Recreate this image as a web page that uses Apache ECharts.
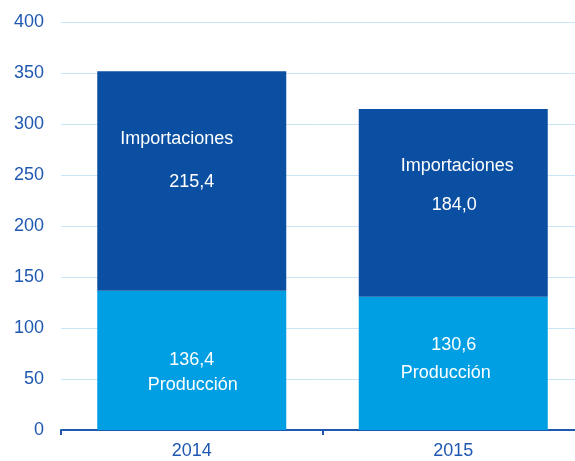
<!DOCTYPE html>
<html>
<head>
<meta charset="utf-8">
<script src="https://cdn.jsdelivr.net/npm/echarts@6/dist/echarts.min.js"></script>
<style>
html,body{margin:0;padding:0;background:#fff;}
#c{width:575px;height:461px;}
</style>
</head>
<body>
<div id="c"></div>
<script>
var categories = ['2014', '2015'];
var produccion = [136.4, 130.6];
var importaciones = [215.4, 184.0];
var yTicks = [0, 50, 100, 150, 200, 250, 300, 350, 400];

var fmt = function (v) { return v.toFixed(1).replace('.', ','); };

// label layout tweaks (style only)
var impLayout = [
  { lh: 43, off: -20, padName: [0, 30, 0, 0], padVal: [0, 0, 0, 0] },
  { lh: 39, off: -17, padName: [0, 0, 0, 8], padVal: [0, 0, 0, 2] }
];
var prodLayout = [
  { lh: 25, off: 12, padName: [0, 0, 0, 2], padVal: [0, 0, 0, 0] },
  { lh: 28, off: -4, padName: [0, 15, 0, 0], padVal: [0, 0, 0, 1] }
];

function makeData(values, name, layout, nameFirst) {
  return values.map(function (v, i) {
    var L = layout[i];
    return {
      value: v,
      label: {
        show: true,
        position: 'inside',
        offset: [0, L.off],
        formatter: nameFirst ? ('{n|' + name + '}\n{v|' + fmt(v) + '}') : ('{v|' + fmt(v) + '}\n{n|' + name + '}'),
        rich: {
          n: { color: '#fff', fontSize: 18, fontFamily: 'Liberation Sans, Arial, sans-serif', lineHeight: L.lh, padding: L.padName, align: 'center' },
          v: { color: '#fff', fontSize: 18, fontFamily: 'Liberation Sans, Arial, sans-serif', lineHeight: L.lh, padding: L.padVal, align: 'center' }
        }
      }
    };
  });
}

var chart = echarts.init(document.getElementById('c'), null, { renderer: 'canvas' });
chart.setOption({
  animation: false,
  backgroundColor: '#ffffff',
  grid: { left: 61, width: 523, top: 22, height: 408, containLabel: false, outerBoundsMode: 'none' },
  xAxis: {
    type: 'category',
    data: categories,
    axisLine: { show: true, lineStyle: { color: '#1f58b0', width: 2 } },
    axisTick: { show: true, length: 5, lineStyle: { color: '#1f58b0', width: 2 } },
    axisLabel: { color: '#1f58b0', fontSize: 18, fontFamily: 'Liberation Sans, Arial, sans-serif', margin: 12 }
  },
  yAxis: {
    type: 'value',
    min: yTicks[0],
    max: yTicks[yTicks.length - 1],
    interval: 50,
    axisLine: { show: false },
    axisTick: { show: false },
    splitLine: { lineStyle: { color: '#c8e6f6', width: 1 } },
    axisLabel: { color: '#1f58b0', fontSize: 18, fontFamily: 'Liberation Sans, Arial, sans-serif', margin: 17 }
  },
  series: [
    {
      name: 'Producción',
      type: 'bar',
      stack: 'total',
      barWidth: 189,
      itemStyle: { color: '#009fe3' },
      data: makeData(produccion, 'Producción', prodLayout, false)
    },
    {
      name: 'Importaciones',
      type: 'bar',
      stack: 'total',
      barWidth: 189,
      itemStyle: { color: '#0a4fa2' },
      data: makeData(importaciones, 'Importaciones', impLayout, true)
    }
  ]
});
</script>
</body>
</html>
